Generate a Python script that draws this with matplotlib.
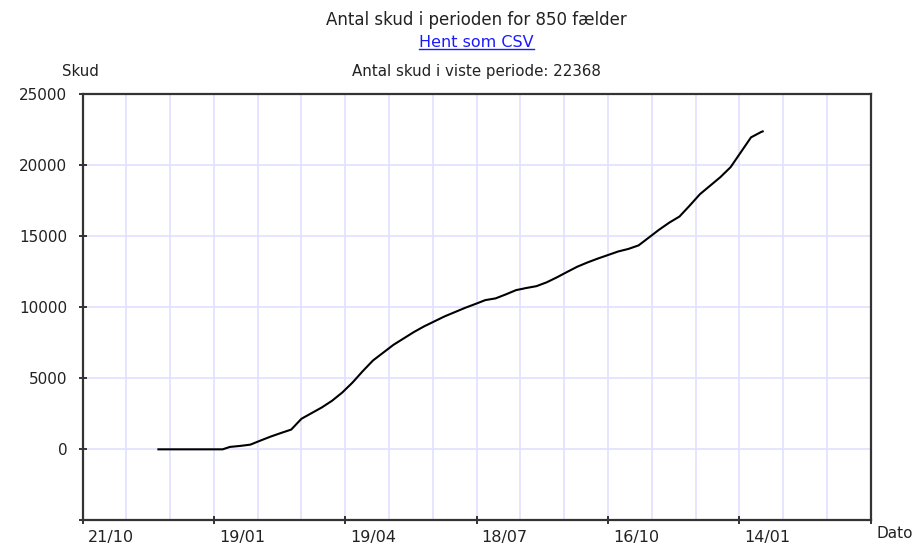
import matplotlib
matplotlib.use('Agg')
import matplotlib.pyplot as plt
from matplotlib.lines import Line2D
import matplotlib.transforms as mtrans
import datetime as dt

plt.rcParams['font.family'] = ['DejaVu Sans']

# ---- data ----
dates = ['2020-12-12', '2020-12-19', '2020-12-26', '2021-01-02', '2021-01-09', '2021-01-16',
         '2021-01-25', '2021-01-30', '2021-02-06', '2021-02-13', '2021-02-20', '2021-02-27',
         '2021-03-06', '2021-03-13', '2021-03-20', '2021-03-27', '2021-04-03', '2021-04-10',
         '2021-04-17', '2021-04-24', '2021-05-01', '2021-05-08', '2021-05-15', '2021-05-22',
         '2021-05-29', '2021-06-05', '2021-06-12', '2021-06-19', '2021-06-26', '2021-07-03',
         '2021-07-10', '2021-07-17', '2021-07-24', '2021-07-31', '2021-08-07', '2021-08-14',
         '2021-08-21', '2021-08-28', '2021-09-04', '2021-09-11', '2021-09-18', '2021-09-25',
         '2021-10-02', '2021-10-09', '2021-10-16', '2021-10-23', '2021-10-30', '2021-11-06',
         '2021-11-13', '2021-11-20', '2021-11-27', '2021-12-04', '2021-12-11', '2021-12-18',
         '2021-12-25', '2022-01-01', '2022-01-08', '2022-01-15', '2022-01-22', '2022-01-29',
         '2022-01-30']
shots = [0, 0, 0, 0, 0, 0,
         0, 170, 240, 330, 620, 900,
         1150, 1390, 2150, 2550, 2950, 3420,
         4000, 4700, 5500, 6250, 6800, 7350,
         7800, 8250, 8650, 9000, 9350, 9650,
         9950, 10220, 10500, 10620, 10900, 11200,
         11350, 11480, 11750, 12100, 12480, 12850,
         13150, 13420, 13670, 13920, 14100, 14350,
         14900, 15450, 15950, 16380, 17150, 17950,
         18550, 19150, 19850, 20900, 21950, 22330,
         22368]

x_start = '2020-10-21'
x_end = '2022-04-14'
major_step_days = 90
minor_step_days = 30
y_ticks = [-5000, 0, 5000, 10000, 15000, 20000, 25000]
y_tick_labels = ['', '0', '5000', '10000', '15000', '20000', '25000']

title = 'Antal skud i perioden for 850 fælder'
link_text = 'Hent som CSV'
subtitle = 'Antal skud i viste periode: 22368'
y_label = 'Skud'
x_label = 'Dato'

# ---- figure ----
W, H = 919, 546
fig = plt.figure(figsize=(W / 100, H / 100), dpi=100)
left_px, right_px, top_px, bot_px = 82.5, 870.7, 94.0, 520.4
ax = fig.add_axes([left_px / W, 1 - bot_px / H, (right_px - left_px) / W, (bot_px - top_px) / H])

xd = [dt.datetime.strptime(d, '%Y-%m-%d') for d in dates]
x0 = dt.datetime.strptime(x_start, '%Y-%m-%d')
x1 = dt.datetime.strptime(x_end, '%Y-%m-%d')

ax.plot(xd, shots, color='black', lw=1.5, solid_joinstyle='miter', zorder=3)

ax.set_xlim(x0, x1)
ax.set_ylim(-5000, 25000)

n_days = (x1 - x0).days
major = [x0 + dt.timedelta(days=d) for d in range(0, n_days + 1, major_step_days)]
minor = [x0 + dt.timedelta(days=d) for d in range(0, n_days + 1, minor_step_days)]
ax.set_xticks(major)
labels = [m.strftime('%d/%m') for m in major]
labels[-1] = ''
ax.set_xticklabels(labels, ha='left')
ax.set_yticks(y_ticks)
ax.set_yticklabels(y_tick_labels)

# grid
for m in minor[1:-1]:
    ax.axvline(m, color='#e0e0ff', lw=1.2, zorder=1)
for yv in y_ticks[1:-1]:
    ax.axhline(yv, color='#e0e0ff', lw=1.2, zorder=1)

for s in ax.spines.values():
    s.set_color('#333333')
    s.set_linewidth(1.6)

ax.tick_params(axis='both', direction='inout', length=6, width=1.4, color='#333333',
               labelsize=11, labelcolor='#222222')
ax.tick_params(axis='x', pad=4, labelsize=11.5)
ax.tick_params(axis='y', pad=8)
ax.tick_params(top=False, right=False)

offset = mtrans.ScaledTranslation(5 / 100, 0, fig.dpi_scale_trans)
for lab in ax.get_xticklabels():
    lab.set_transform(lab.get_transform() + offset)

cx = (left_px + right_px) / 2 / W
fig.text(cx, 1 - 20 / H, title, ha='center', va='center', fontsize=12, color='#222222')
link = fig.text(cx, 1 - 43 / H, link_text, ha='center', va='center', fontsize=11.5, color='#1a1aff')
fig.text(cx, 1 - 71.5 / H, subtitle, ha='center', va='center', fontsize=10.8, color='#222222')
fig.text(80 / W, 1 - 71.5 / H, y_label, ha='center', va='center', fontsize=10.8, color='#222222')
fig.text(876 / W, 1 - 534 / H, x_label, ha='left', va='center', fontsize=11, color='#222222')

fig.canvas.draw()
bb = link.get_window_extent()
fig.add_artist(Line2D([bb.x0 / W, bb.x1 / W], [(bb.y0 + 1) / H, (bb.y0 + 1) / H],
                      transform=fig.transFigure, color='#1a1aff', lw=1.0))

fig.savefig('out.png', dpi=100)
